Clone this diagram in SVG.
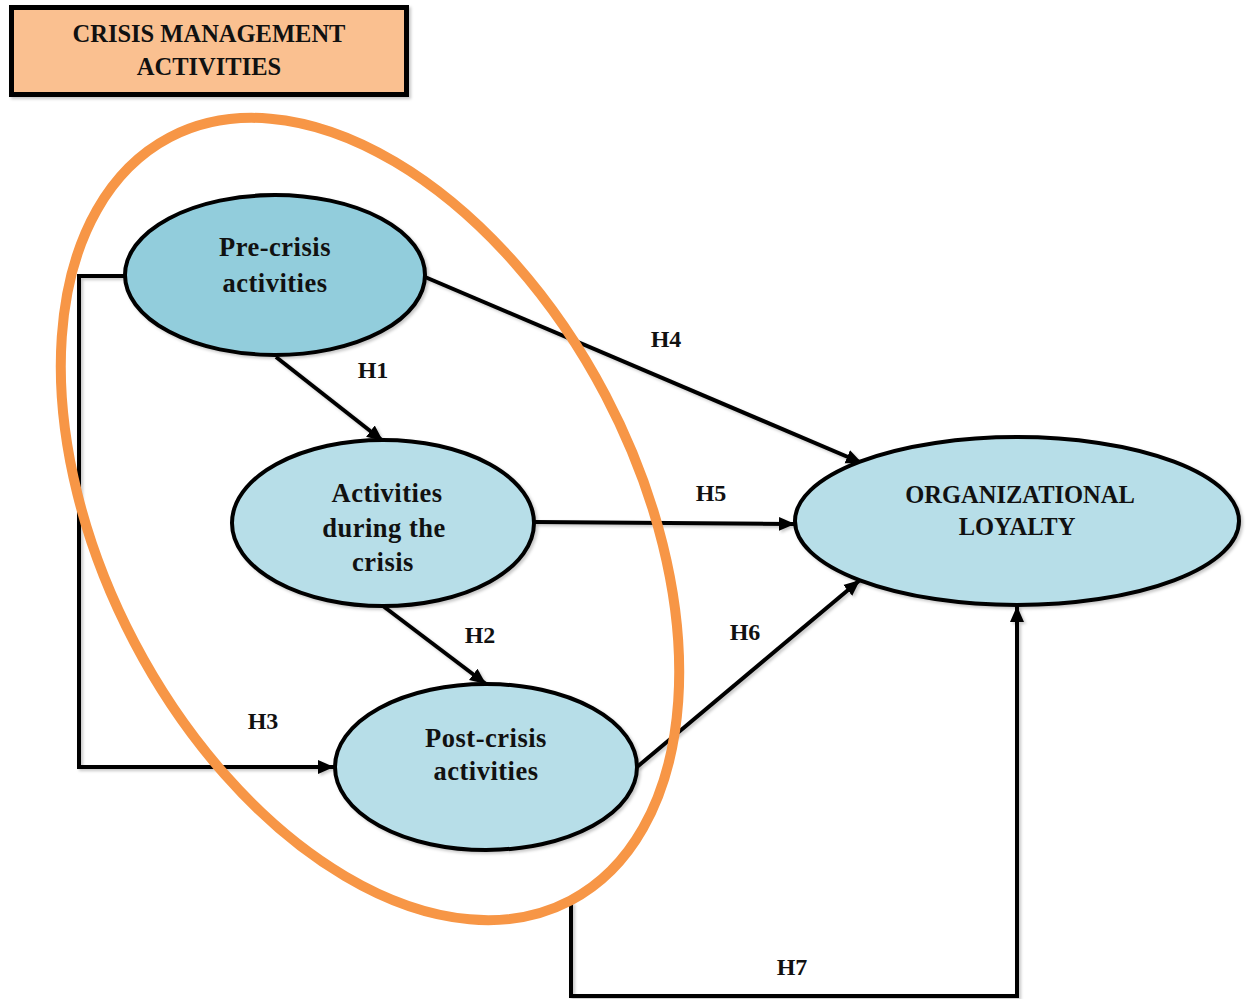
<svg xmlns="http://www.w3.org/2000/svg" width="1247" height="999" viewBox="0 0 1247 999">
  <style>
    .lbl { font-family: "Liberation Serif", "DejaVu Serif", serif; font-weight: bold; fill: #111; text-anchor: middle; }
    .node-txt { font-size: 26.5px; letter-spacing: 0.5px; }
    .caps-txt { font-size: 24.5px; }
    .h-txt { font-size: 24px; }
    .node { stroke: #000; stroke-width: 4; filter: url(#shadow); }
    .conn { fill: none; stroke: #000; stroke-width: 4; filter: url(#shadow); }
  </style>
  <defs>
    <filter id="shadow" filterUnits="userSpaceOnUse" x="0" y="0" width="1247" height="999">
      <feDropShadow dx="2" dy="2" stdDeviation="1.5" flood-color="#000" flood-opacity="0.22"/>
    </filter>
    <marker id="arrow" markerUnits="userSpaceOnUse" markerWidth="18" markerHeight="16" refX="16" refY="8" orient="auto">
      <path d="M0,1 L16,8 L0,15 Z" fill="#000"/>
    </marker>
  </defs>

  <rect width="1247" height="999" fill="#fff"/>

  <!-- heading box -->
  <g id="heading">
    <rect x="11.5" y="7.5" width="395" height="87" fill="#FAC090" stroke="#000" stroke-width="5" filter="url(#shadow)"/>
    <text class="lbl caps-txt" x="209" y="42">CRISIS MANAGEMENT</text>
    <text class="lbl caps-txt" x="209" y="75">ACTIVITIES</text>
  </g>

  <!-- connectors -->
  <g id="connectors">
    <line class="conn" x1="276" y1="357" x2="383" y2="441" marker-end="url(#arrow)"/>
    <line class="conn" x1="383" y1="606" x2="486" y2="684" marker-end="url(#arrow)"/>
    <polyline class="conn" points="125,276 79,276 79,767 334,767" marker-end="url(#arrow)"/>
    <line class="conn" x1="425" y1="277" x2="862" y2="463" marker-end="url(#arrow)"/>
    <line class="conn" x1="535" y1="522" x2="795" y2="524" marker-end="url(#arrow)"/>
    <line class="conn" x1="637" y1="767" x2="860" y2="580" marker-end="url(#arrow)"/>
    <polyline class="conn" points="571,902 571,996 1017,996 1017,606" marker-end="url(#arrow)"/>
  </g>

  <!-- grouping outline around the three activity phases -->
  <g id="activities-outline">
    <ellipse cx="370" cy="519" rx="431" ry="266" transform="rotate(62.3 370 519)" fill="none" stroke="#F79646" stroke-width="10"/>
  </g>

  <g id="pre-crisis">
    <ellipse class="node" cx="275" cy="275" rx="150" ry="80" fill="#92CDDC"/>
    <text class="lbl node-txt" x="275" y="256">Pre-crisis</text>
    <text class="lbl node-txt" x="275" y="292">activities</text>
  </g>

  <g id="during-crisis">
    <ellipse class="node" cx="383" cy="523" rx="151" ry="83" fill="#B7DEE8"/>
    <text class="lbl node-txt" x="387" y="502">Activities</text>
    <text class="lbl node-txt" x="384" y="537">during the</text>
    <text class="lbl node-txt" x="383" y="571">crisis</text>
  </g>

  <g id="post-crisis">
    <ellipse class="node" cx="486" cy="767" rx="151" ry="83" fill="#B7DEE8"/>
    <text class="lbl node-txt" x="486" y="747">Post-crisis</text>
    <text class="lbl node-txt" x="486" y="780">activities</text>
  </g>

  <g id="loyalty">
    <ellipse class="node" cx="1017" cy="521" rx="222" ry="84" fill="#B7DEE8"/>
    <text class="lbl caps-txt" x="1020" y="503">ORGANIZATIONAL</text>
    <text class="lbl caps-txt" x="1017" y="535">LOYALTY</text>
  </g>

  <!-- hypothesis labels -->
  <g id="labels">
    <text class="lbl h-txt" x="373" y="378">H1</text>
    <text class="lbl h-txt" x="480" y="643">H2</text>
    <text class="lbl h-txt" x="263" y="729">H3</text>
    <text class="lbl h-txt" x="666" y="347">H4</text>
    <text class="lbl h-txt" x="711" y="501">H5</text>
    <text class="lbl h-txt" x="745" y="640">H6</text>
    <text class="lbl h-txt" x="792" y="975">H7</text>
  </g>
</svg>
